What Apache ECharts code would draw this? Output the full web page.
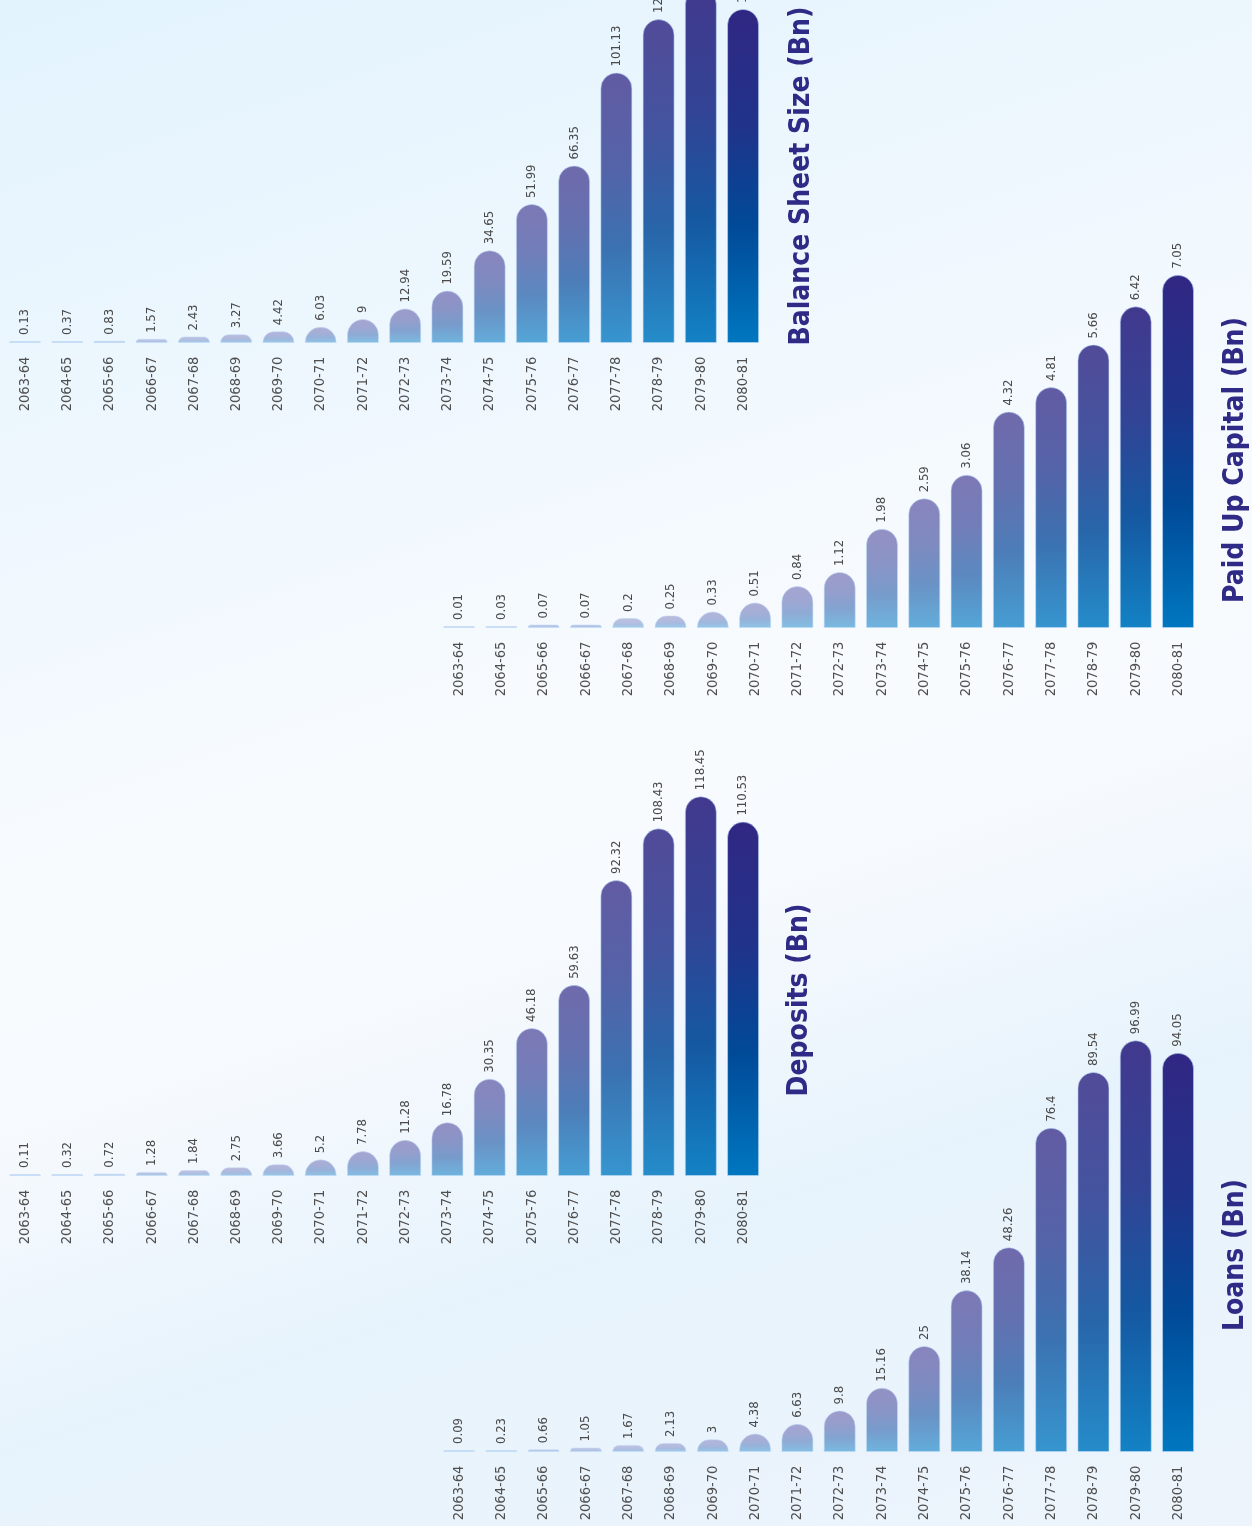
<!DOCTYPE html>
<html>
<head>
<meta charset="utf-8">
<script src="https://cdn.jsdelivr.net/npm/echarts@6/dist/echarts.min.js"></script>
<style>
  html, body { margin: 0; padding: 0; }
  body {
    width: 1252px; height: 1526px; overflow: hidden;
    background: linear-gradient(162deg, #e2f3fd 0%, #eef7fe 25%, #f8fbfe 48%, #f7fafe 58%, #e7f3fc 75%, #edf4fc 100%);
  }
  #chart { width: 1252px; height: 1526px; }
</style>
</head>
<body>
<div id="chart"></div>
<script>
const categories = ['2063-64','2064-65','2065-66','2066-67','2067-68','2068-69','2069-70','2070-71','2071-72','2072-73','2073-74','2074-75','2075-76','2076-77','2077-78','2078-79','2079-80','2080-81'];
const balanceSheet = [0.13,0.37,0.83,1.57,2.43,3.27,4.42,6.03,9,12.94,19.59,34.65,51.99,66.35,101.13,121.1,132.5,124.9];
const deposits = [0.11,0.32,0.72,1.28,1.84,2.75,3.66,5.2,7.78,11.28,16.78,30.35,46.18,59.63,92.32,108.43,118.45,110.53];
const paidUpCapital = [0.01,0.03,0.07,0.07,0.2,0.25,0.33,0.51,0.84,1.12,1.98,2.59,3.06,4.32,4.81,5.66,6.42,7.05];
const loans = [0.09,0.23,0.66,1.05,1.67,2.13,3,4.38,6.63,9.8,15.16,25,38.14,48.26,76.4,89.54,96.99,94.05];
const titles = ['Balance Sheet Size (Bn)', 'Deposits (Bn)', 'Paid Up Capital (Bn)', 'Loans (Bn)'];

const FONT = "'DejaVu Sans Condensed', 'DejaVu Sans', sans-serif";

function lerp(a, b, s) { return a.map((v, k) => Math.round(v + (b[k] - v) * s)); }
function rgb(c) { return 'rgb(' + c.join(',') + ')'; }
function barColor(i, n) {
  const s = Math.pow(i / (n - 1), 2);
  const top = lerp([200, 200, 230], [49, 39, 131], s);
  const mid = lerp([182, 198, 230], [0, 74, 152], s);
  const bot = lerp([168, 212, 238], [0, 119, 192], s);
  return new echarts.graphic.LinearGradient(0, 0, 0, 1, [
    { offset: 0, color: rgb(top) },
    { offset: 0.35, color: rgb(lerp(top, mid, 0.35)) },
    { offset: 0.65, color: rgb(mid) },
    { offset: 1, color: rgb(bot) }
  ]);
}
function items(values) {
  return values.map((v, i) => ({ value: v, itemStyle: { color: barColor(i, values.length) } }));
}

const panels = [
  { data: balanceSheet, left: 3.9, width: 760.3, top: 0, height: 343, max: 343 / 2.675 },
  { data: deposits, left: 3.9, width: 760.3, top: 1176 - 416.8, height: 416.8, max: 130 },
  { data: paidUpCapital, left: 437.9, width: 761.3, top: 628 - 400.8, height: 400.8, max: 8 },
  { data: loans, left: 437.9, width: 761.3, top: 1452 - 424.5, height: 424.5, max: 100 }
];
const titlePos = [[802, 176], [800, 1000], [1236, 460], [1236, 1255]];

const option = {
  animation: false,
  backgroundColor: 'transparent',
  grid: panels.map(p => ({ left: p.left, width: p.width, top: p.top, height: p.height, containLabel: false })),
  xAxis: panels.map((p, k) => ({
    type: 'category', gridIndex: k, data: categories,
    axisLine: { show: false }, axisTick: { show: false }, splitLine: { show: false },
    axisLabel: { rotate: 90, align: 'center', margin: 41, fontSize: 14.5, color: '#4f4f4f', fontFamily: FONT, interval: 0 }
  })),
  yAxis: panels.map((p, k) => ({
    type: 'value', gridIndex: k, min: 0, max: p.max, show: false
  })),
  series: panels.map((p, k) => ({
    type: 'bar', xAxisIndex: k, yAxisIndex: k,
    data: items(p.data),
    barWidth: 32, barMinHeight: 2, clip: false,
    itemStyle: { borderRadius: [16, 16, 0, 0], borderColor: 'rgba(190,220,248,0.55)', borderWidth: 1 },
    label: {
      show: true, position: 'top', rotate: 90, align: 'left', verticalAlign: 'middle',
      distance: 6, fontSize: 13, color: '#4a4a4a', fontFamily: FONT, formatter: '{c}'
    }
  })),
  graphic: titles.map((t, k) => ({
    type: 'text', x: titlePos[k][0], y: titlePos[k][1], rotation: Math.PI / 2,
    style: { text: t, fill: '#2e2a86', font: 'bold 28px ' + FONT, align: 'center', verticalAlign: 'middle' }
  }))
};

const chart = echarts.init(document.getElementById('chart'), null, { renderer: 'canvas' });
chart.setOption(option);
</script>
</body>
</html>
